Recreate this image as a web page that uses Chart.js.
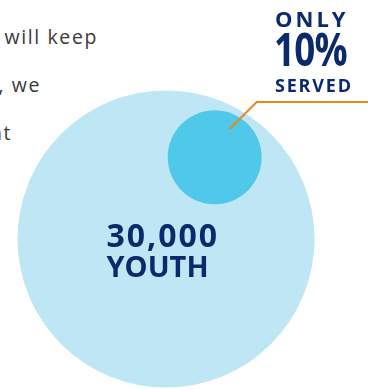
<!DOCTYPE html>
<html>
<head>
<meta charset="utf-8">
<script src="https://cdn.jsdelivr.net/npm/chart.js@4.4.1/dist/chart.umd.min.js"></script>
<style>
  html, body { margin: 0; padding: 0; background: #ffffff; }
  #wrap { position: relative; width: 372px; height: 390px; overflow: hidden; }
  canvas { position: absolute; left: 0; top: 0; }
  .para { position: absolute; font-family: "Open Sans", sans-serif; font-size: 19.5px; color: #3a3a3a;
          white-space: nowrap; letter-spacing: 1.6px; text-align: right; line-height: 1; }
</style>
</head>
<body>
<div id="wrap">
  <div class="para" style="right:274px; top:27px;">will keep</div>
  <div class="para" style="right:331px; top:75px;">, we</div>
  <div class="para" style="right:360px; top:123px;">nt</div>
  <canvas id="c" width="372" height="390"></canvas>
</div>
<script>
// ---- data ----
const categories = ["Youth", "Served"];
const values = [30000, 3000];            // 30,000 youth; only 10% served
const totalLabel = ["30,000", "YOUTH"];
const servedLabel = ["ONLY", "10%", "SERVED"];

// ---- layout (pixels) ----
const CX = 166, CY = 239, RPX = 148.5;   // big circle placement
const unitsR = Math.sqrt(values[0]);     // radius in sqrt-value units
const s = RPX / unitsR;                  // px per unit
const W = 372, H = 390;

// keep the plot area the full canvas (bubbles are allowed to reach the edges)
const BubbleCtl = Chart.BubbleController || Chart.registry.getController('bubble');
BubbleCtl.prototype.getMaxOverflow = function () { return 0; };

// small circle sits inside the big one, toward upper right
const angle = 59.2 * Math.PI / 180;
const dist = 95.1 / s;
const points = values.map((v, i) => ({
  x: i === 0 ? 0 : dist * Math.cos(angle),
  y: i === 0 ? 0 : dist * Math.sin(angle),
  r: Math.sqrt(v) * s                   // area proportional to value
}));

const colors = ["#bee6f4", "#4fc8e9"];
const navy = "#0b2a6b";
const orange = "#e28a1c";

const labelPlugin = {
  id: "labels",
  afterDatasetsDraw(chart) {
    const ctx = chart.ctx;
    const meta = chart.getDatasetMeta(0);
    const big = meta.data[0], small = meta.data[1];
    ctx.save();
    ctx.fillStyle = navy;
    ctx.textAlign = "left";
    ctx.textBaseline = "alphabetic";
    // big circle labels
    ctx.font = "700 32px 'Open Sans'";
    ctx.letterSpacing = "2px";
    ctx.fillText(totalLabel[0], big.x - 59.5, big.y + 7.7);
    ctx.font = "700 29px 'Open Sans'";
    ctx.letterSpacing = "0px";
    ctx.fillText(totalLabel[1], big.x - 59.5, big.y + 38.3);

    // leader line
    const sx = small.x + 14.6, sy = small.y - 28;
    const ex = 256.7, ey = 102;
    ctx.strokeStyle = orange;
    ctx.lineWidth = 2;
    ctx.beginPath();
    ctx.moveTo(sx, sy);
    ctx.lineTo(ex, ey);
    ctx.lineTo(368, ey);
    ctx.stroke();

    // served labels
    ctx.font = "700 22px 'Open Sans'";
    ctx.letterSpacing = "3px";
    ctx.fillText(servedLabel[0], 275, 26.7);
    ctx.save();
    ctx.translate(274, 66);
    ctx.scale(0.8, 1);
    ctx.font = "700 46px 'Open Sans'";
    ctx.letterSpacing = "-1px";
    ctx.fillText(servedLabel[1], 0, 0);
    ctx.restore();
    ctx.font = "700 18px 'Open Sans'";
    ctx.letterSpacing = "1.8px";
    ctx.fillText(servedLabel[2], 275, 91.7);
    ctx.restore();
  }
};

new Chart(document.getElementById("c"), {
  type: "bubble",
  data: {
    labels: categories,
    datasets: [{
      data: points,
      backgroundColor: colors,
      hoverBackgroundColor: colors,
      borderWidth: 0,
      hoverBorderWidth: 0,
      hoverRadius: 0
    }]
  },
  options: {
    responsive: false,
    animation: false,
    events: [],
    clip: false,
    layout: { padding: 0 },
    plugins: { legend: { display: false }, tooltip: { enabled: false } },
    scales: {
      x: { display: false, min: -CX / s, max: (W - CX) / s },
      y: { display: false, min: -(H - CY) / s, max: CY / s }
    }
  },
  plugins: [labelPlugin]
});
</script>
</body>
</html>
